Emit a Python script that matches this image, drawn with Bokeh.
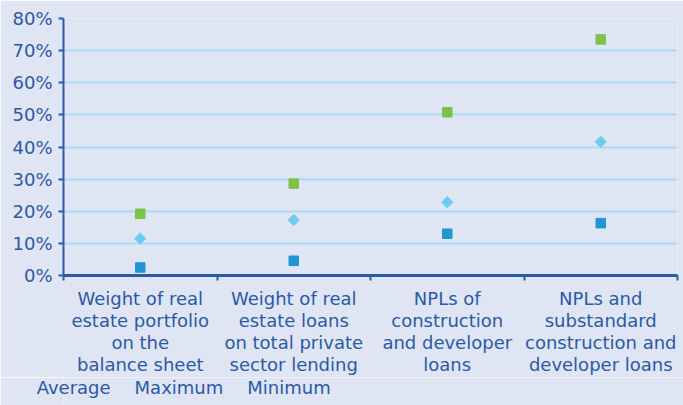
import math

from bokeh.plotting import figure
from bokeh.layouts import column
from bokeh.models import (ColumnDataSource, FixedTicker, LinearAxis, Range1d,
                          Legend, LegendItem)
from bokeh.embed import file_html
from bokeh.resources import INLINE

# Real-estate exposure indicators across banks (share, %)
categories = [
    "Weight of real\nestate portfolio\non the\nbalance sheet",
    "Weight of real\nestate loans\non total private\nsector lending",
    "NPLs of\nconstruction\nand developer\nloans",
    "NPLs and\nsubstandard\nconstruction and\ndeveloper loans",
]
average = [11.5, 17.3, 22.8, 41.6]
maximum = [19.2, 28.6, 50.8, 73.5]
minimum = [2.5, 4.6, 13.0, 16.3]
series_names = ["Average", "Maximum", "Minimum"]
y_ticks = [0, 10, 20, 30, 40, 50, 60, 70, 80]

BG = "#dfe5f2"
TEXT = "#2a5aa7"
AXIS = "#2b5ba8"
GRID = "#aadcf2"
C_AVG = "#6dcbf0"
C_MAX = "#7dc24b"
C_MIN = "#2196d3"
FONT = "DejaVu Sans"
FS = "18px"

xs = [i + 0.5 for i in range(len(categories))]
src = ColumnDataSource(dict(x=xs, avg=average, mx=maximum, mn=minimum))

p = figure(frame_width=614, frame_height=257, output_backend="svg",
           toolbar_location=None,
           x_range=Range1d(0, len(categories)), y_range=Range1d(0, 80),
           x_axis_type=None, y_axis_location="left",
           background_fill_color=BG, border_fill_color=BG,
           min_border_left=63, min_border_right=6, min_border_top=18,
           min_border_bottom=0)
p.outline_line_color = None

# y axis
ya = p.yaxis[0]
ya.ticker = FixedTicker(ticks=y_ticks)
ya.major_label_overrides = {t: f"{t}%" for t in y_ticks}
ya.axis_line_color = AXIS
ya.axis_line_width = 2
ya.major_tick_line_color = AXIS
ya.major_tick_line_width = 2
ya.major_tick_out = 5
ya.major_tick_in = 0
ya.minor_tick_line_color = None
ya.major_label_text_color = TEXT
ya.major_label_text_font = FONT
ya.major_label_text_font_size = FS
ya.major_label_standoff = 6

p.ygrid.ticker = FixedTicker(ticks=y_ticks[1:])
p.ygrid.grid_line_color = GRID
p.ygrid.grid_line_width = 2
p.xgrid.grid_line_color = None

# x axis: boundary ticks between categories
xb = LinearAxis(ticker=FixedTicker(ticks=list(range(len(categories) + 1))))
xb.major_label_text_font_size = "0px"
xb.major_label_standoff = 0
xb.axis_line_color = AXIS
xb.axis_line_width = 3
xb.major_tick_line_color = AXIS
xb.major_tick_line_width = 2
xb.major_tick_out = 5
xb.major_tick_in = 0
xb.minor_tick_line_color = None
p.add_layout(xb, "below")

# category names, one axis per text line so the line spacing stays tight
lines = [c.split("\n") for c in categories]
n_lines = max(len(l) for l in lines)
for k in range(n_lines):
    ax = LinearAxis(ticker=FixedTicker(ticks=xs))
    ax.major_label_overrides = {x: (l[k] if k < len(l) else "")
                                for x, l in zip(xs, lines)}
    ax.axis_line_color = None
    ax.major_tick_line_color = None
    ax.minor_tick_line_color = None
    ax.major_tick_out = 0
    ax.major_tick_in = 0
    ax.major_label_text_color = TEXT
    ax.major_label_text_font = FONT
    ax.major_label_text_font_size = FS
    ax.major_label_standoff = 7 if k == 0 else -2
    p.add_layout(ax, "below")

styles = [dict(marker="square", size=8, angle=math.pi / 4, color=C_AVG),
          dict(marker="square", size=9.5, angle=0, color=C_MAX),
          dict(marker="square", size=9.5, angle=0, color=C_MIN)]

for col, st in zip(["avg", "mx", "mn"], styles):
    p.scatter("x", col, source=src, marker=st["marker"], size=st["size"],
              angle=st["angle"], fill_color=st["color"],
              line_color=st["color"])

# legend strip under the chart
leg_fig = figure(frame_width=627, frame_height=28, output_backend="svg",
                 toolbar_location=None, x_range=Range1d(0, 1),
                 y_range=Range1d(0, 1), x_axis_type=None, y_axis_type=None,
                 background_fill_color=BG, border_fill_color=BG,
                 min_border_left=56, min_border_right=0, min_border_top=0,
                 min_border_bottom=0)
leg_fig.outline_line_color = None
leg_fig.grid.visible = False

items = []
for name, st in zip(series_names, styles):
    r = leg_fig.scatter(x=[], y=[], marker=st["marker"], size=st["size"],
                        angle=st["angle"], fill_color=st["color"],
                        line_color=st["color"])
    items.append(LegendItem(label=name, renderers=[r]))

legend = Legend(items=items, orientation="horizontal", location="top_left",
                background_fill_alpha=0, border_line_color=None,
                label_text_color=TEXT, label_text_font=FONT,
                label_text_font_size=FS, glyph_width=16, glyph_height=18,
                label_standoff=2, spacing=6, padding=2, margin=0)
leg_fig.add_layout(legend, "center")

layout = column(p, leg_fig, spacing=0)

open("out.html", "w").write(file_html(layout, INLINE))
